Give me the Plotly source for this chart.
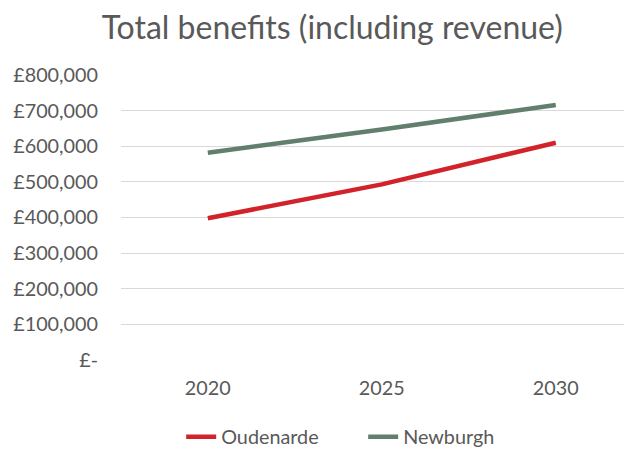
import plotly.graph_objects as go

years = ["2020", "2025", "2030"]
oudenarde = [398000, 493000, 610000]
newburgh = [582000, 647000, 716000]
y_tickvals = [0, 100000, 200000, 300000, 400000, 500000, 600000, 700000, 800000]
y_ticktext = ["£-", "£100,000", "£200,000", "£300,000", "£400,000",
              "£500,000", "£600,000", "£700,000", "£800,000"]

FONT = "Lato"
TEXT = "#595959"

fig = go.Figure()
fig.add_trace(go.Scatter(x=years, y=oudenarde, name="Oudenarde", mode="lines",
                         line=dict(color="#D2222A", width=4.5)))
fig.add_trace(go.Scatter(x=years, y=newburgh, name="Newburgh", mode="lines",
                         line=dict(color="#627E6D", width=4.5)))

fig.update_layout(
    width=632, height=450,
    margin=dict(l=113, r=0, t=67, b=98),
    paper_bgcolor="white", plot_bgcolor="white",
    font=dict(family=FONT, color=TEXT, size=19.8),
    title=dict(text="Total benefits (including revenue)", x=0.513, xref="container",
               xanchor="center", y=0.956, yref="container", yanchor="middle",
               font=dict(family=FONT, size=32, color=TEXT)),
    showlegend=True,
    legend=dict(orientation="h", xref="container", x=0.274, xanchor="left",
                yref="container", y=0.047, yanchor="middle",
                font=dict(family=FONT, size=19.8, color=TEXT),
                entrywidth=137, entrywidthmode="pixels",
                itemwidth=30, tracegroupgap=0),
    xaxis=dict(type="category", range=[-0.499, 2.484], showgrid=False,
               showline=False, zeroline=False, ticks="",
               ticklabelstandoff=14,
               tickfont=dict(family=FONT, size=19.8, color=TEXT)),
    yaxis=dict(range=[0, 800000], tickvals=y_tickvals, ticktext=y_ticktext,
               showgrid=True, gridcolor="#D9D9D9", gridwidth=1.3,
               zeroline=False, showline=False, ticks="",
               ticklabelstandoff=22,
               tickfont=dict(family=FONT, size=19.8, color=TEXT)),
)

fig.write_html("out.html")
